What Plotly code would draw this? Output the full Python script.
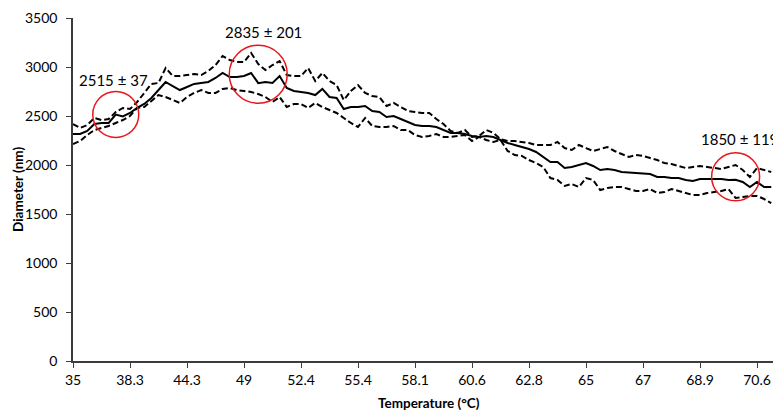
import plotly.graph_objects as go

# Temperature labels shown on the category axis (one every `points_per_tick` readings)
tick_labels = ["35", "38.3", "44.3", "49", "52.4", "55.4", "58.1",
               "60.6", "62.8", "65", "67", "68.9", "70.6"]
points_per_tick = 8

# Mean particle diameter (nm) at each temperature reading
mean_nm = [2316, 2316, 2347, 2418, 2429, 2429, 2515, 2495, 2531, 2582,
           2623, 2684, 2765, 2847, 2806, 2765, 2796, 2827, 2837, 2847,
           2888, 2939, 2898, 2898, 2908, 2939, 2835, 2847, 2837, 2908,
           2786, 2755, 2745, 2735, 2714, 2776, 2694, 2684, 2571, 2592,
           2592, 2602, 2551, 2541, 2490, 2500, 2469, 2439, 2408, 2398,
           2398, 2388, 2357, 2327, 2327, 2316, 2296, 2286, 2296, 2286,
           2255, 2225, 2204, 2184, 2163, 2133, 2082, 2031, 2031, 1969,
           1980, 2000, 2020, 1990, 1949, 1959, 1949, 1929, 1923, 1918,
           1918, 1908, 1878, 1878, 1867, 1867, 1847, 1837, 1857, 1857,
           1857, 1857, 1847, 1850, 1827, 1776, 1827, 1776, 1776]

# Mean + standard deviation (nm)
upper_nm = [2418, 2378, 2408, 2480, 2459, 2469, 2541, 2582, 2571, 2643,
            2735, 2827, 2837, 2990, 2908, 2908, 2918, 2929, 2918, 2959,
            3020, 3112, 3071, 3051, 3051, 3143, 3031, 2969, 3020, 3061,
            2918, 2908, 2908, 2990, 2857, 2939, 2857, 2816, 2663, 2755,
            2816, 2735, 2704, 2694, 2602, 2633, 2592, 2551, 2541, 2531,
            2531, 2469, 2418, 2347, 2327, 2357, 2286, 2296, 2357, 2327,
            2265, 2245, 2245, 2235, 2225, 2204, 2204, 2204, 2235, 2173,
            2153, 2204, 2173, 2143, 2163, 2184, 2143, 2112, 2082, 2102,
            2092, 2071, 2051, 2020, 2010, 1990, 1969, 1980, 1990, 1980,
            1969, 1959, 1980, 2000, 1949, 1878, 1969, 1949, 1929]

# Mean - standard deviation (nm)
lower_nm = [2214, 2245, 2306, 2357, 2378, 2398, 2429, 2459, 2500, 2582,
            2592, 2653, 2714, 2694, 2663, 2633, 2694, 2735, 2765, 2735,
            2735, 2776, 2786, 2765, 2755, 2745, 2724, 2694, 2643, 2694,
            2592, 2622, 2622, 2582, 2633, 2592, 2561, 2531, 2480, 2429,
            2388, 2480, 2398, 2388, 2388, 2398, 2357, 2357, 2306, 2286,
            2296, 2316, 2286, 2286, 2296, 2306, 2245, 2286, 2255, 2235,
            2255, 2143, 2102, 2092, 2051, 2020, 1980, 1867, 1847, 1786,
            1806, 1776, 1867, 1847, 1745, 1765, 1776, 1776, 1755, 1735,
            1735, 1755, 1714, 1724, 1755, 1735, 1714, 1694, 1694, 1714,
            1724, 1735, 1755, 1663, 1673, 1684, 1684, 1653, 1612]

# Highlighted readings: index into the series and the standard deviation there
highlight_index = [6, 26, 93]
highlight_sd = [37, 201, 119]

idx = list(range(len(mean_nm)))
tick_vals = [i * points_per_tick for i in range(len(tick_labels))]

W, H = 773, 410
L, R, T, B = 73, 0, 18, 49
plot_w = W - L - R
x_max = plot_w / 7.125

FONT = "Lato, 'Noto Sans', sans-serif"
AXIS_COLOR = "#3c3c3c"

fig = go.Figure()
fig.add_trace(go.Scatter(x=idx, y=upper_nm, mode="lines",
                         line=dict(color="black", width=2, dash="6px,3px"),
                         showlegend=False))
fig.add_trace(go.Scatter(x=idx, y=lower_nm, mode="lines",
                         line=dict(color="black", width=2, dash="6px,3px"),
                         showlegend=False))
fig.add_trace(go.Scatter(x=idx, y=mean_nm, mode="lines",
                         line=dict(color="black", width=2),
                         showlegend=False))

# Red rings and value labels around the highlighted readings
ring_style = [  # (radius px, centre offset x px, centre offset y px)
    (23, 0, 0),
    (29, 0, 9),
    (24, 0, 3),
]
label_style = [  # (xshift, yshift, xanchor)
    (-2, 35, "center"),
    (5, 51, "center"),
    (-37, 41, "left"),
]
shapes = []
annotations = []
for k, i in enumerate(highlight_index):
    r, dx, dy = ring_style[k]
    shapes.append(dict(type="circle", xref="x", yref="y",
                       xsizemode="pixel", ysizemode="pixel",
                       xanchor=i, yanchor=mean_nm[i],
                       x0=dx - r, x1=dx + r, y0=dy - r, y1=dy + r,
                       line=dict(color="#e8161b", width=1.5)))
    xs, ys, xa = label_style[k]
    annotations.append(dict(x=i, y=mean_nm[i], xref="x", yref="y",
                            text=f"{mean_nm[i]} ± {highlight_sd[k]}",
                            showarrow=False, xshift=xs, yshift=ys,
                            xanchor=xa, yanchor="middle",
                            font=dict(family=FONT, size=15, color="black")))

# Axis titles
annotations.append(dict(x=(429 - L) / plot_w, y=0, xref="paper", yref="paper",
                        text="<b>Temperature (°C)</b>", showarrow=False,
                        yshift=-42, xanchor="center", yanchor="middle",
                        font=dict(family=FONT, size=13.5, color="black")))
annotations.append(dict(x=0, y=0.5, xref="paper", yref="paper",
                        text="<b>Diameter (nm)</b>", showarrow=False,
                        xshift=-55.5, textangle=-90,
                        xanchor="center", yanchor="middle",
                        font=dict(family=FONT, size=13.5, color="black")))

fig.update_layout(
    width=W, height=H,
    margin=dict(l=L, r=R, t=T, b=B),
    paper_bgcolor="white", plot_bgcolor="white",
    shapes=shapes, annotations=annotations,
    font=dict(family=FONT, size=14, color="black"),
    xaxis=dict(range=[0, x_max], tickmode="array", tickvals=tick_vals,
               ticktext=tick_labels, showgrid=False, zeroline=False,
               showline=True, linecolor=AXIS_COLOR, linewidth=1.5,
               ticks="outside", ticklen=5, tickcolor=AXIS_COLOR,
               tickfont=dict(family=FONT, size=14, color="black")),
    yaxis=dict(range=[0, 3500], dtick=500, showgrid=False, zeroline=False,
               showline=True, linecolor=AXIS_COLOR, linewidth=1.5,
               ticks="outside", ticklen=5, tickcolor=AXIS_COLOR,
               ticklabelstandoff=6,
               tickfont=dict(family=FONT, size=14, color="black")),
)

fig.write_html("out.html")
